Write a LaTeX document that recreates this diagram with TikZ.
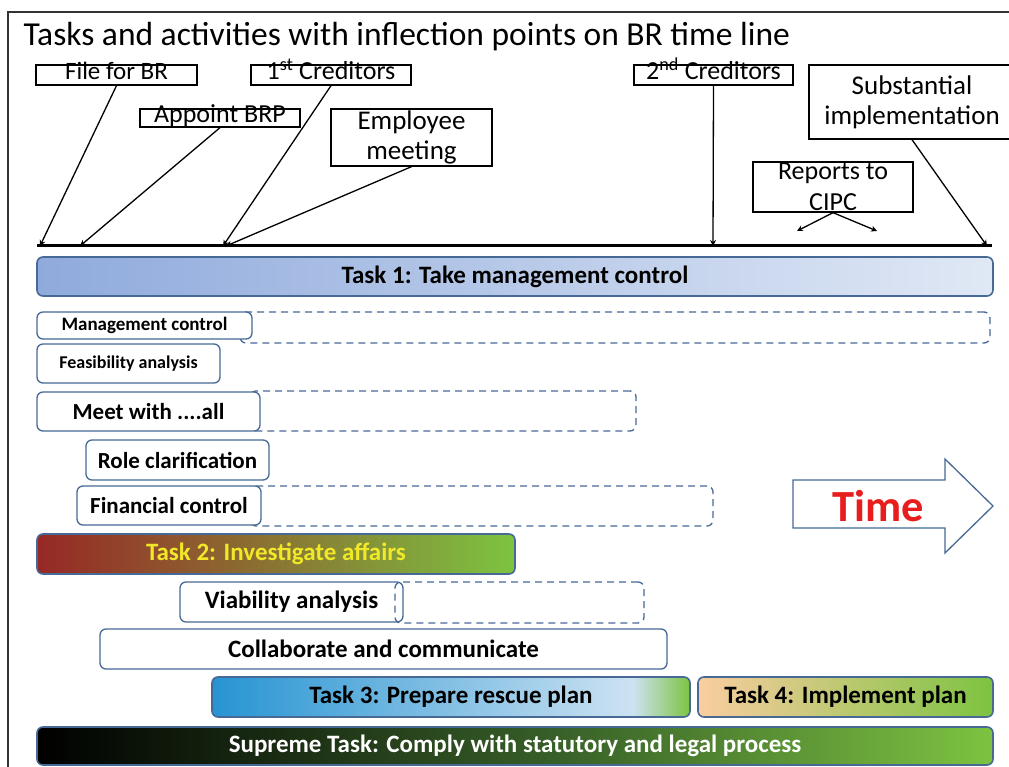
\documentclass[tikz,border=0pt]{standalone}
\usepackage{fontspec}
\setmainfont{Carlito}
\usepackage{tikz}
\usetikzlibrary{arrows.meta, positioning}

\definecolor{edgeblue}{RGB}{70,105,150}
\definecolor{timered}{RGB}{232,30,30}
\definecolor{taskyellow}{RGB}{240,232,40}
\definecolor{tonea}{RGB}{143,170,220}
\definecolor{toneb}{RGB}{224,232,245}
\definecolor{ttwoa}{RGB}{150,40,38}
\definecolor{ttwob}{RGB}{125,195,65}
\definecolor{tthreea}{RGB}{38,148,210}
\definecolor{tthreeb}{RGB}{205,226,242}
\definecolor{tfoura}{RGB}{250,205,160}
\definecolor{supmid}{RGB}{55,95,40}

\pgfdeclarehorizontalshading{taskone}{100bp}{color(0bp)=(tonea); color(25bp)=(tonea); color(75bp)=(toneb); color(100bp)=(toneb)}
\pgfdeclarehorizontalshading{tasktwo}{100bp}{color(0bp)=(ttwoa); color(25bp)=(ttwoa); color(75bp)=(ttwob); color(100bp)=(ttwob)}
\pgfdeclarehorizontalshading{taskthree}{100bp}{color(0bp)=(tthreea); color(25bp)=(tthreea); color(69bp)=(tthreeb); color(75bp)=(ttwob); color(100bp)=(ttwob)}
\pgfdeclarehorizontalshading{taskfour}{100bp}{color(0bp)=(tfoura); color(25bp)=(tfoura); color(75bp)=(ttwob); color(100bp)=(ttwob)}
\pgfdeclarehorizontalshading{supreme}{100bp}{color(0bp)=(black); color(25bp)=(black); color(52bp)=(supmid); color(75bp)=(ttwob); color(100bp)=(ttwob)}

\begin{document}
\begin{tikzpicture}[
  x=1pt, y=-1pt,
  event/.style={draw=black, line width=1.3pt, inner sep=0pt, align=center, font=\fontsize{26}{30}\selectfont},
  oneline/.style={text height=10pt, text depth=0pt},
  bar/.style={draw=edgeblue, line width=1.6pt, rounded corners=6pt, inner sep=0pt, shade, font=\bfseries\fontsize{25}{28}\selectfont},
  activity/.style={draw=edgeblue, line width=1.3pt, fill=white, rounded corners=6pt, inner sep=0pt, font=\bfseries\fontsize{23}{26}\selectfont},
  later/.style={draw=edgeblue, line width=1.3pt, dash pattern=on 7pt off 5pt, rounded corners=6pt, inner sep=0pt},
  tick/.style={-{Stealth[length=6pt,width=6pt]}, line width=1.3pt}
]
\useasboundingbox (0,0) rectangle (1009,767);
\draw[line width=1.2pt, black!80] (8,12) rectangle (1030,790);

\node[anchor=west, font=\fontsize{33.5}{36}\selectfont] (title) at (20,37) {Tasks and activities with inflection points on BR time line};

\node[event, oneline, minimum width=161, minimum height=20, font=\fontsize{25}{30}\selectfont] (fileBR) at (116.5,75) {File for BR};
\node[event, oneline, minimum width=160, minimum height=20] (cred1) at (331,75) {1\textsuperscript{st} Creditors};
\node[event, oneline, minimum width=160, minimum height=18] (brp) at (220,118) {Appoint BRP};
\node[event, minimum width=161, minimum height=57, font=\fontsize{27}{30}\selectfont] (meeting) at (411.5,137.5) {Employee\\meeting};
\node[event, oneline, minimum width=159, minimum height=20] (cred2) at (713.5,75) {2\textsuperscript{nd} Creditors};
\node[event, minimum width=206, minimum height=74, font=\fontsize{27}{30}\selectfont] (subst) at (912,102) {Substantial\\implementation};
\node[event, minimum width=160, minimum height=50, font=\fontsize{26}{31}\selectfont] (cipc) at (833,187) {Reports to\\CIPC};

\coordinate (lineA) at (37,246);
\coordinate (lineB) at (992,246);
\draw[line width=3pt] (lineA) -- (lineB);

\coordinate (m1) at (40,246);
\coordinate (m2) at (80,246);
\coordinate (m3) at (223,246);
\coordinate (m4) at (226,246);
\coordinate (m5) at (713,246);
\coordinate (m6) at (987,246);
\coordinate (c1) at (797,231);
\coordinate (c2) at (877,231);

\draw[tick] (fileBR.south) -- (m1);
\draw[tick] (brp.south) -- (m2);
\draw[tick] (cred1.south) -- (m3);
\draw[tick] (meeting.south) -- (m4);
\draw[tick] (cred2.south) -- (m5);
\draw[tick] (subst.south) -- (m6);
\draw[tick] (cipc.south) -- (c1);
\draw[tick] (cipc.south) -- (c2);

\node[bar, shading=taskone, minimum width=956, minimum height=39] (task1) at (515,276.5) {Task 1: Take management control};

\node[later, minimum width=750, minimum height=31] (mgmtLater) at (615,327.5) {};
\node[activity, minimum width=215, minimum height=27, font=\bfseries\fontsize{19}{20}\selectfont] (mgmt) at (144.5,325.5) {Management control};
\node[activity, minimum width=183, minimum height=39, font=\bfseries\fontsize{18}{20}\selectfont] (feas) at (128.5,363.5) {Feasibility analysis};
\node[later, minimum width=386, minimum height=40] (meetLater) at (443,411) {};
\node[activity, minimum width=223, minimum height=39] (meet) at (148.5,411.5) {Meet with ....all};
\node[activity, minimum width=183, minimum height=40] (role) at (177.5,460) {Role clarification};
\node[later, minimum width=463, minimum height=40] (finLater) at (481.5,506) {};
\node[activity, minimum width=184, minimum height=39] (fin) at (169,505.5) {Financial control};

\draw[draw=edgeblue, line width=1.3pt, fill=white] (793,480) -- (945,480) -- (945,459) -- (993,506) -- (945,553) -- (945,528) -- (793,528) -- cycle;
\node[text=timered, font=\bfseries\fontsize{44.5}{48}\selectfont] (time) at (878,506) {Time};

\node[bar, shading=tasktwo, minimum width=478, minimum height=40, text=taskyellow] (task2) at (276,554) {Task 2: Investigate affairs};

\node[activity, minimum width=223, minimum height=40, font=\bfseries\fontsize{25}{28}\selectfont] (viab) at (291.5,602) {Viability analysis};
\node[later, minimum width=249, minimum height=41] (viabLater) at (519.5,602.5) {};
\node[activity, minimum width=567, minimum height=40, font=\bfseries\fontsize{25}{28}\selectfont] (collab) at (383.5,649) {Collaborate and communicate};

\node[bar, shading=taskthree, minimum width=478, minimum height=40] (task3) at (451,697) {Task 3: Prepare rescue plan};
\node[bar, shading=taskfour, minimum width=295, minimum height=40] (task4) at (845.5,697) {Task 4: Implement plan};
\node[bar, shading=supreme, minimum width=956, minimum height=38, text=white] (supreme) at (515,746) {Supreme Task: Comply with statutory and legal process};

\end{tikzpicture}
\end{document}
